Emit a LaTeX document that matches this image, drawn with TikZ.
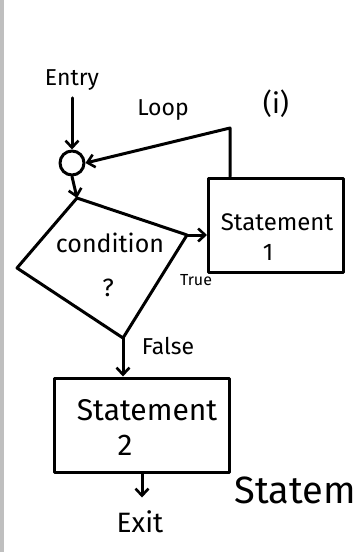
\documentclass[tikz,border=0pt]{standalone}
\usepackage{fontspec}
\setmainfont{Fira Sans}
\usetikzlibrary{arrows.meta}
\begin{document}
\begin{tikzpicture}[x=1pt,y=-1pt,
  line width=3pt, line join=round, line cap=round,
  arr/.style={-{Straight Barb[length=7pt,width=13pt,line width=2.6pt]}},
  stmt/.style={draw, rectangle, align=center, inner sep=0pt},
  txt/.style={inner sep=0pt, font=\fontseries{m}\selectfont},
  lbl/.style={inner sep=0pt, font=\fontsize{23}{26}\selectfont}]
\useasboundingbox (0,0) rectangle (358,552);
\clip (0,0) rectangle (358,552);
\fill[white] (0,0) rectangle (358,552);
\fill[black!25] (0,0) rectangle (4,552);

% surrounding notebook text
\node[inner sep=0pt, font=\fontsize{28}{32}\selectfont] (ti) at (276,104) {(i)};
\node[inner sep=0pt, font=\fontsize{38}{42}\selectfont, anchor=west] (st) at (233,490) {Statem};

% nodes
\node[lbl] (entry) at (72,80) {Entry};
\node[draw, circle, minimum size=24pt, inner sep=0pt] (c) at (72,163) {};
\coordinate (dt) at (77,198);
\coordinate (dr) at (187,235);
\coordinate (db) at (123,338);
\coordinate (dl) at (17,268);
\draw (dt) -- (dr) -- (db) -- (dl) -- cycle;
\node[inner sep=0pt, font=\fontsize{25}{28}\selectfont] (cond) at (110,243) {condition};
\node[inner sep=0pt, font=\fontsize{25}{28}\selectfont] (q) at (108,288) {?};

\node[stmt, minimum width=135pt, minimum height=94pt] (s1) at (276,225) {};
\node[inner sep=0pt, font=\fontsize{24}{28}\selectfont] (s1a) at (277,222) {Statement};
\node[inner sep=0pt, font=\fontsize{24}{28}\selectfont] (s1b) at (268,252) {1};

\node[stmt, minimum width=175pt, minimum height=94pt] (s2) at (142,425) {};
\node[inner sep=0pt, font=\fontsize{30}{34}\selectfont] (s2a) at (147,410) {Statement};
\node[inner sep=0pt, font=\fontsize{30}{34}\selectfont] (s2b) at (125,445) {2};

\node[inner sep=0pt, font=\fontsize{28}{32}\selectfont] (exit) at (140,522) {Exit};

\coordinate (lc) at (230,128);

% connectors
\draw[arr] (entry.south) ++(0,6) coordinate (e0) (e0) -- (c.north);
\draw[arr] (c.south) -- (dt);
\draw[arr] (lc |- s1.north) -- (lc) -- (c.east);
\node[lbl] (loop) at (163,110) {Loop};
\draw[arr] (dr) -- (dr -| s1.west);
\node[inner sep=0pt, font=\fontsize{16}{18}\selectfont] (true) at (196,280) {True};
\draw[arr] (db) -- (db |- s2.north);
\node[lbl] (false) at (168,346) {False};
\draw[arr] (s2.south) -- ++(0,24) coordinate (x0);
\end{tikzpicture}
\end{document}
